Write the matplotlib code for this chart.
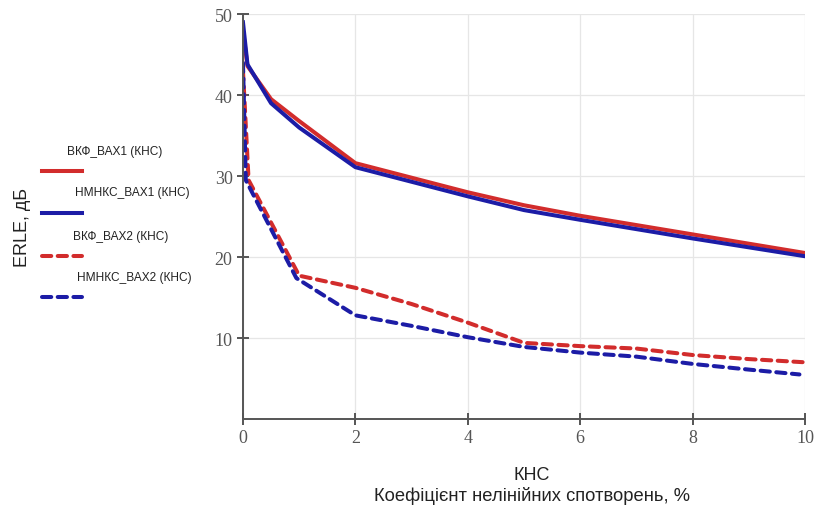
import matplotlib.pyplot as plt
from matplotlib.lines import Line2D

# КНС, % та ERLE, дБ
x_vax1 = [0, 0.08, 0.5, 1, 2, 4, 5, 6, 8, 10]
vkf_vax1 = [48.0, 43.6, 39.5, 36.8, 31.6, 28.0, 26.4, 25.1, 22.8, 20.5]
nmnks_vax1 = [49.0, 43.8, 39.0, 36.0, 31.1, 27.5, 25.8, 24.6, 22.3, 20.1]

x_vax2 = [0, 0.1, 1, 2, 3, 4, 5, 6, 7, 8, 9, 10]
vkf_vax2 = [43.0, 29.5, 17.7, 16.2, 14.2, 11.9, 9.4, 9.0, 8.7, 7.9, 7.4, 7.0]
x_vax2b = [0, 0.05, 0.95, 2, 3, 4, 5, 6, 7, 8, 9, 9.9]
nmnks_vax2 = [44.0, 29.5, 17.4, 12.8, 11.5, 10.1, 8.9, 8.2, 7.7, 6.8, 6.1, 5.5]

labels = ['ВКФ_ВАХ1 (КНС)', 'НМНКС_ВАХ1 (КНС)', 'ВКФ_ВАХ2 (КНС)', 'НМНКС_ВАХ2 (КНС)']
red = '#d22c2c'
blue = '#1c1ca6'
dash = (2.3, 1.6)
lw = 2.9

fig = plt.figure(figsize=(8.17, 5.06), dpi=100)
ax = fig.add_axes([0.2974, 0.170, 0.688, 0.800])

ax.plot(x_vax1, vkf_vax1, color=red, lw=lw, solid_joinstyle='round')
ax.plot(x_vax1, nmnks_vax1, color=blue, lw=lw, solid_joinstyle='round')
ax.plot(x_vax2, vkf_vax2, color=red, lw=lw, ls=(0, dash), dash_capstyle='round')
ax.plot(x_vax2b, nmnks_vax2, color=blue, lw=lw, ls=(0, dash), dash_capstyle='round')

ax.set_xlim(0, 10)
ax.set_ylim(0, 50)
ax.set_xticks([0, 2, 4, 6, 8, 10])
ax.set_yticks([10, 20, 30, 40, 50])
ax.grid(True, color='#e6e6e6', lw=0.9)
ax.set_axisbelow(True)
for s in ['top', 'right']:
    ax.spines[s].set_visible(False)
for s in ['left', 'bottom']:
    ax.spines[s].set_color('#555555')
    ax.spines[s].set_linewidth(1.4)
    ax.spines[s].set_clip_on(False)
ax.tick_params(direction='inout', length=9, width=1.4, color='#555555',
               labelcolor='#555555', labelsize=13, pad=3)
for t in ax.get_xticklabels() + ax.get_yticklabels():
    t.set_family('Liberation Serif')

# підписи осей
fig.text(0.027, 0.55, 'ERLE, дБ', rotation=90, ha='center', va='center',
         fontsize=13, family='Liberation Sans', color='#222222')
fig.text(0.651, 0.061, 'КНС', ha='center', va='center', fontsize=13,
         family='Liberation Sans', color='#222222')
fig.text(0.651, 0.020, 'Коефіцієнт нелінійних спотворень, %', ha='center',
         va='center', fontsize=13.2, family='Liberation Sans', color='#222222')

# легенда зліва
text_pos = [(67, 152), (75, 193), (73, 237), (77, 278)]
line_y = [172, 214, 257, 298]
styles = [(red, '-'), (blue, '-'), (red, (0, dash)), (blue, (0, dash))]
W, H = 817, 506
for lab, (tx, ty), ly, (c, st) in zip(labels, text_pos, line_y, styles):
    fig.text(tx / W, 1 - ty / H, lab, ha='left', va='center', fontsize=8.6,
             family='Liberation Sans', color='#222222')
    fig.add_artist(Line2D([42 / W, 82 / W], [1 - ly / H, 1 - ly / H],
                          transform=fig.transFigure, color=c, lw=lw, ls=st,
                          dash_capstyle='round'))

fig.savefig('out.png', dpi=100)
